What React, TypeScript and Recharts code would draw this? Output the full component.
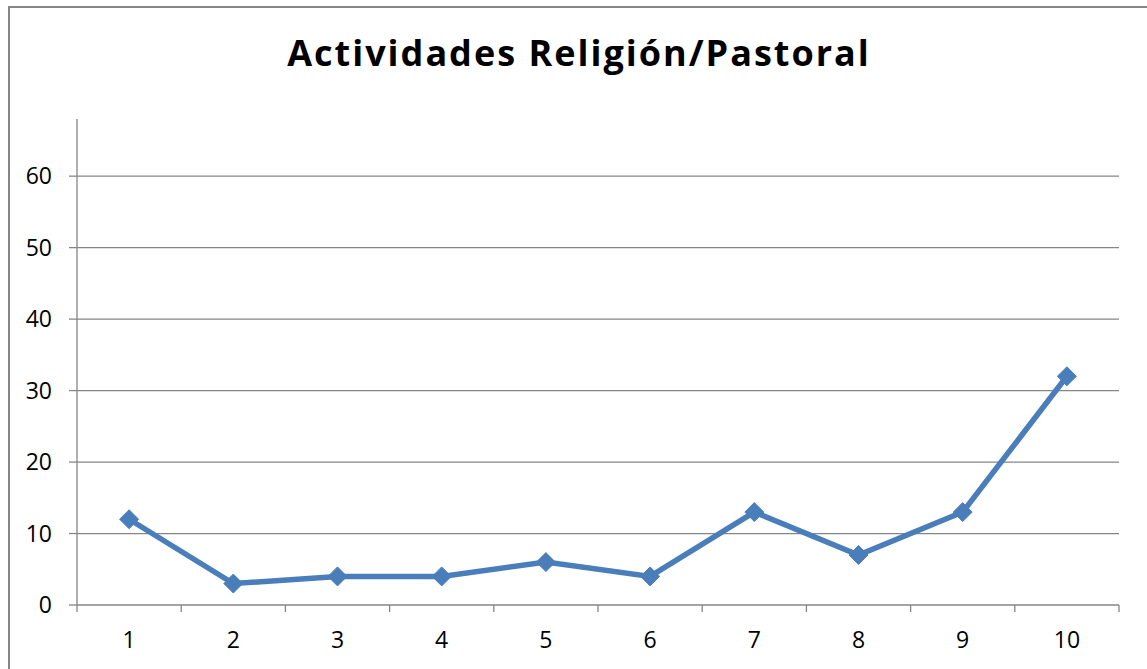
import { LineChart, Line, XAxis, YAxis, ReferenceLine } from "recharts";

const categories = [1, 2, 3, 4, 5, 6, 7, 8, 9, 10];
const values = [12, 3, 4, 4, 6, 4, 13, 7, 13, 32];
const yTicks = [0, 10, 20, 30, 40, 50, 60];
const gridLines = [10, 20, 30, 40, 50, 60];
const edgeTicks = [0.5, 1.5, 2.5, 3.5, 4.5, 5.5, 6.5, 7.5, 8.5, 9.5, 10.5];

const data = categories.map((x, i) => ({ x, value: values[i] }));

const GRAY = "#868686";
const BLUE = "#4A7EBB";
const FONT = "'Open Sans', Lato, sans-serif";

function Diamond(props: any) {
  const { cx, cy } = props;
  if (cx == null || cy == null) return null;
  const r = 9.5;
  return (
    <polygon
      points={`${cx},${cy - r} ${cx + r},${cy} ${cx},${cy + r} ${cx - r},${cy}`}
      fill={BLUE}
      stroke={BLUE}
    />
  );
}

export default function App() {
  return (
    <div
      style={{
        position: "absolute",
        left: 0,
        top: 0,
        width: 1147,
        height: 669,
        overflow: "hidden",
        background: "#fff",
      }}
    >
      <div
        style={{
          position: "absolute",
          left: 8,
          top: 6,
          width: 1200,
          height: 700,
          borderLeft: `2px solid ${GRAY}`,
          borderTop: `2px solid ${GRAY}`,
        }}
      />
      <div
        style={{
          position: "absolute",
          left: 0,
          top: 33,
          width: 1158,
          textAlign: "center",
          fontFamily: FONT,
          fontWeight: 700,
          fontSize: 36,
          letterSpacing: 2,
          lineHeight: "40px",
          color: "#000",
        }}
      >
        Actividades Religión/Pastoral
      </div>
      <div style={{ position: "absolute", left: 0, top: 0 }}>
        <LineChart
          width={1147}
          height={669}
          data={data}
          margin={{ top: 119, right: 28, bottom: 0, left: 0 }}
        >
          <XAxis
            xAxisId="edges"
            type="number"
            dataKey="x"
            domain={[0.5, 10.5]}
            ticks={edgeTicks}
            height={1}
            tickSize={7}
            tickFormatter={() => ""}
            stroke={GRAY}
            strokeWidth={1.3}
          />
          <XAxis
            xAxisId="labels"
            type="number"
            dataKey="x"
            domain={[0.5, 10.5]}
            ticks={categories}
            height={63}
            axisLine={false}
            tickLine={false}
            tickSize={0}
            tickMargin={26}
            tick={{ fill: "#000", fontSize: 23, fontFamily: FONT }}
          />
          <YAxis
            width={77}
            domain={[0, 68]}
            ticks={yTicks}
            allowDataOverflow
            tickSize={8}
            tickMargin={17}
            stroke={GRAY}
            strokeWidth={1.3}
            tick={{ fill: "#000", fontSize: 23, fontFamily: FONT }}
          />
          {gridLines.map((v) => (
            <ReferenceLine
              key={v}
              xAxisId="edges"
              y={v}
              stroke={GRAY}
              strokeWidth={1.3}
            />
          ))}
          <Line
            xAxisId="edges"
            type="linear"
            dataKey="value"
            stroke={BLUE}
            strokeWidth={5.5}
            dot={<Diamond />}
            activeDot={false}
            isAnimationActive={false}
          />
        </LineChart>
      </div>
    </div>
  );
}
